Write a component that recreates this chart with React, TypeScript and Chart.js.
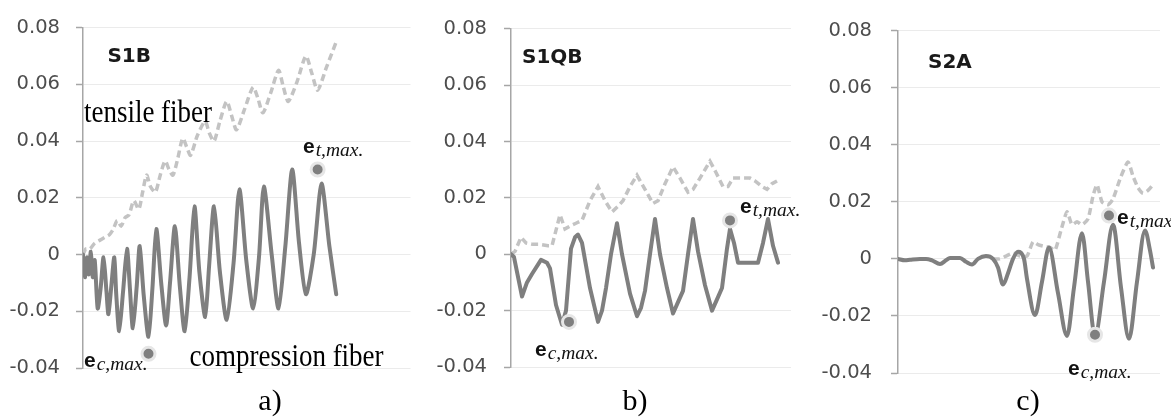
import React, { useEffect, useRef } from 'react';
import { Chart, registerables } from 'chart.js';

Chart.register(...registerables);

// ---------- shared axis ----------
const yTickValues = [-0.04, -0.02, 0, 0.02, 0.04, 0.06, 0.08];
const yTickLabels = ['-0.04', '-0.02', '0', '0.02', '0.04', '0.06', '0.08'];
const captions = ['a)', 'b)', 'c)'];
const titles = ['S1B', 'S1QB', 'S2A'];

// ---------- panel a: S1B ----------
const s1bCompX = [0, 2, 4, 6, 8, 10, 12, 15, 18, 21, 24, 26, 29, 32, 34, 37, 41, 45, 48, 51, 55, 58, 62, 67, 71, 75, 80, 85, 89, 94, 99, 104, 109, 114, 119, 125, 129, 134, 140, 147, 154, 160, 167, 174, 180, 185, 193, 200, 207, 214, 221, 228, 236, 244, 252, 259];
const s1bCompY = [0.0, -0.008, -0.001, -0.007, 0.001, -0.008, -0.002, -0.019, -0.012, -0.001, -0.013, -0.021, -0.011, -0.001, -0.014, -0.027, -0.013, 0.002, -0.012, -0.026, -0.011, 0.003, -0.014, -0.029, -0.012, 0.009, -0.010, -0.025, -0.010, 0.010, -0.011, -0.027, -0.008, 0.017, -0.006, -0.022, -0.004, 0.017, -0.006, -0.023, -0.003, 0.023, -0.002, -0.019, -0.001, 0.024, 0.0, -0.019, 0.003, 0.030, 0.004, -0.014, 0.0, 0.025, 0.003, -0.014];
const s1bTensX = [0, 3, 7, 12, 17, 22, 27, 31, 35, 39, 43, 47, 52, 57, 61, 65, 69, 74, 79, 84, 88, 92, 97, 102, 106, 110, 117, 125, 129, 134, 140, 147, 152, 157, 165, 174, 179, 184, 192, 200, 205, 210, 219, 228, 234, 240, 249, 259];
const s1bTensY = [0.0, 0.002, 0.002, 0.004, 0.005, 0.006, 0.007, 0.009, 0.012, 0.010, 0.013, 0.014, 0.019, 0.016, 0.022, 0.028, 0.024, 0.022, 0.028, 0.033, 0.030, 0.028, 0.034, 0.041, 0.038, 0.035, 0.042, 0.047, 0.043, 0.040, 0.047, 0.054, 0.049, 0.044, 0.051, 0.059, 0.055, 0.050, 0.057, 0.065, 0.059, 0.054, 0.061, 0.070, 0.064, 0.058, 0.066, 0.075];
const s1bMarkX = [67, 240];
const s1bMarkY = [-0.035, 0.030];

// ---------- panel b: S1QB ----------
const s1qbCompX = [0, 3, 11, 16, 21, 30, 36, 39, 45, 51, 55, 60, 64, 67, 71, 79, 87, 91, 95, 100, 106, 111, 119, 126, 130, 134, 139, 144, 149, 156, 162, 167, 172, 177, 182, 187, 194, 201, 206, 211, 216, 219, 223, 227, 247, 252, 257, 262, 267];
const s1qbCompY = [0.0, -0.001, -0.015, -0.010, -0.007, -0.002, -0.003, -0.005, -0.018, -0.025, -0.020, 0.002, 0.006, 0.007, 0.004, -0.012, -0.024, -0.020, -0.012, 0.0, 0.011, 0.0, -0.014, -0.022, -0.019, -0.013, 0.0, 0.0125, 0.0, -0.012, -0.021, -0.017, -0.013, 0.0, 0.0125, 0.001, -0.011, -0.020, -0.016, -0.012, 0.002, 0.009, 0.004, -0.003, -0.003, 0.004, 0.0125, 0.003, -0.003];
const s1qbTensX = [0, 4, 10, 15, 22, 29, 37, 41, 49, 54, 59, 65, 71, 79, 87, 94, 101, 107, 112, 119, 126, 134, 142, 147, 154, 162, 169, 177, 182, 189, 199, 205, 212, 217, 222, 229, 239, 244, 251, 256, 261, 266];
const s1qbTensY = [0.0, 0.001, 0.006, 0.004, 0.0035, 0.0035, 0.003, 0.003, 0.014, 0.009, 0.010, 0.011, 0.012, 0.019, 0.024, 0.019, 0.015, 0.017, 0.019, 0.024, 0.028, 0.023, 0.018, 0.019, 0.025, 0.031, 0.027, 0.022, 0.023, 0.027, 0.033, 0.029, 0.024, 0.024, 0.027, 0.027, 0.027, 0.026, 0.024, 0.023, 0.025, 0.026];
const s1qbMarkX = [58, 219];
const s1qbMarkY = [-0.024, 0.012];

// ---------- panel c: S2A ----------
const s2aCompX = [0, 7, 12, 22, 28, 34, 42, 48, 52, 62, 68, 74, 80, 88, 95, 100, 105, 110, 115, 120, 126, 129, 137, 144, 151, 160, 169, 176, 184, 190, 197, 206, 215, 223, 231, 239, 247, 252, 255];
const s2aCompY = [0.0, -0.0005, -0.0003, 0.0, 0.0, -0.0005, -0.0018, -0.0005, 0.0003, 0.0003, -0.001, -0.002, 0.0, 0.001, 0.0, -0.003, -0.009, -0.005, 0.0, 0.0025, 0.0, -0.007, -0.0197, -0.008, 0.004, -0.012, -0.027, -0.010, 0.009, -0.008, -0.027, -0.008, 0.012, -0.010, -0.028, -0.008, 0.010, 0.003, -0.003];
const s2aTensX = [95, 102, 108, 115, 122, 129, 135, 140, 145, 152, 157, 163, 169, 174, 179, 184, 190, 195, 199, 204, 210, 215, 222, 230, 235, 240, 245, 250, 255];
const s2aTensY = [0.0, 0.0, 0.001, 0.002, 0.001, 0.001, 0.006, 0.005, 0.0045, 0.004, 0.003, 0.010, 0.0165, 0.012, 0.013, 0.012, 0.014, 0.022, 0.026, 0.020, 0.019, 0.021, 0.028, 0.034, 0.029, 0.025, 0.023, 0.024, 0.026];
const s2aMarkX = [197, 211];
const s2aMarkY = [-0.0266, 0.0152];

// ---------- styling / layout ----------
const COMP_COLOR = '#7f7f7f';
const TENS_COLOR = '#c3c3c3';
const SERIF = '"Liberation Serif", "Times New Roman", serif';

type Ann = { kind: 'title' | 'serif' | 'e'; text: string; sub?: string; x: number; y: number };

type PanelCfg = {
  left: number;
  width: number;
  axisW: number;
  tickPad: number;
  padTop: number;
  padBottom: number;
  padRight: number;
  xMax: number;
  compX: number[];
  compY: number[];
  tensX: number[];
  tensY: number[];
  markX: number[];
  markY: number[];
  tension: number;
  monotone: boolean;
  anns: Ann[];
  caption: string;
  captionX: number;
};

const panels: PanelCfg[] = [
  {
    left: 0, width: 420, axisW: 83, tickPad: 16, padTop: 20, padBottom: 49, padRight: 2, xMax: 335,
    compX: s1bCompX, compY: s1bCompY, tensX: s1bTensX, tensY: s1bTensY, markX: s1bMarkX, markY: s1bMarkY,
    tension: 0.25, monotone: false,
    anns: [
      { kind: 'title', text: titles[0], x: 25, y: 0.0679 },
      { kind: 'serif', text: 'tensile fiber', x: 1, y: 0.0468 },
      { kind: 'serif', text: 'compression fiber', x: 109, y: -0.0392 },
      { kind: 'e', text: 'e', sub: 'c,max.', x: 1, y: -0.0395 },
      { kind: 'e', text: 'e', sub: 't,max.', x: 225, y: 0.0357 },
    ],
    caption: captions[0], captionX: 270,
  },
  {
    left: 420, width: 390, axisW: 91, tickPad: 17, padTop: 22, padBottom: 50, padRight: 19, xMax: 280,
    compX: s1qbCompX, compY: s1qbCompY, tensX: s1qbTensX, tensY: s1qbTensY, markX: s1qbMarkX, markY: s1qbMarkY,
    tension: 0, monotone: false,
    anns: [
      { kind: 'title', text: titles[1], x: 11, y: 0.0679 },
      { kind: 'e', text: 'e', sub: 'c,max.', x: 24, y: -0.0362 },
      { kind: 'e', text: 'e', sub: 't,max.', x: 229, y: 0.0146 },
    ],
    caption: captions[1], captionX: 215,
  },
  {
    left: 792, width: 379, axisW: 106, tickPad: 19, padTop: 16, padBottom: 44, padRight: 11, xMax: 262,
    compX: s2aCompX, compY: s2aCompY, tensX: s2aTensX, tensY: s2aTensY, markX: s2aMarkX, markY: s2aMarkY,
    tension: 0.4, monotone: true,
    anns: [
      { kind: 'title', text: titles[2], x: 30, y: 0.0669 },
      { kind: 'e', text: 'e', sub: 'c,max.', x: 170, y: -0.0407 },
      { kind: 'e', text: 'e', sub: 't,max.', x: 219, y: 0.0121 },
    ],
    caption: captions[2], captionX: 236,
  },
];

const pts = (xs: number[], ys: number[]) => xs.map((x, i) => ({ x, y: ys[i] }));

function tickLabel(v: number): string {
  const i = yTickValues.findIndex((t) => Math.abs(t - v) < 1e-9);
  return i >= 0 ? yTickLabels[i] : '';
}

function makeTextPlugin(cfg: PanelCfg) {
  return {
    id: 'panelText',
    afterDraw(chart: any) {
      const ctx: CanvasRenderingContext2D = chart.ctx;
      const xs = chart.scales.x;
      const ys = chart.scales.y;
      ctx.save();
      ctx.textBaseline = 'alphabetic';
      ctx.textAlign = 'left';
      for (const a of cfg.anns) {
        const px = xs.getPixelForValue(a.x);
        const py = ys.getPixelForValue(a.y);
        if (a.kind === 'title') {
          ctx.font = 'bold 20px "DejaVu Sans", sans-serif';
          ctx.fillStyle = '#1a1a1a';
          ctx.fillText(a.text, px, py);
        } else if (a.kind === 'serif') {
          ctx.font = '31px ' + SERIF;
          ctx.fillStyle = '#000000';
          ctx.save();
          ctx.translate(px, py);
          ctx.scale(0.87, 1);
          ctx.fillText(a.text, 0, 0);
          ctx.restore();
        } else {
          ctx.font = 'bold 21px "Liberation Sans", Arial, sans-serif';
          ctx.fillStyle = '#111111';
          ctx.fillText(a.text, px, py);
          const w = ctx.measureText(a.text).width;
          ctx.font = 'italic 19.5px ' + SERIF;
          ctx.fillText(a.sub || '', px + w + 1, py + 3);
        }
      }
      ctx.font = '30px ' + SERIF;
      ctx.fillStyle = '#000000';
      ctx.textAlign = 'center';
      ctx.fillText(cfg.caption, cfg.captionX, 410);
      ctx.restore();
    },
  };
}

function Panel({ cfg }: { cfg: PanelCfg }) {
  const ref = useRef<HTMLCanvasElement>(null);
  useEffect(() => {
    if (!ref.current) return;
    const chart = new Chart(ref.current, {
      type: 'line',
      data: {
        datasets: [
          {
            label: 'max strain',
            data: pts(cfg.markX, cfg.markY),
            showLine: false,
            pointRadius: 6.5,
            pointBackgroundColor: COMP_COLOR,
            pointBorderColor: '#e6e6e6',
            pointBorderWidth: 3,
            order: 0,
          },
          {
            label: 'compression fiber',
            data: pts(cfg.compX, cfg.compY),
            borderColor: COMP_COLOR,
            borderWidth: 4,
            pointRadius: 0,
            tension: cfg.tension,
            cubicInterpolationMode: cfg.monotone ? 'monotone' : 'default',
            borderJoinStyle: 'round',
            borderCapStyle: 'round',
            fill: false,
            order: 1,
          },
          {
            label: 'tensile fiber',
            data: pts(cfg.tensX, cfg.tensY),
            borderColor: TENS_COLOR,
            borderWidth: 3.5,
            borderDash: [7, 4],
            pointRadius: 0,
            tension: cfg.monotone ? 0.2 : cfg.tension,
            fill: false,
            order: 2,
          },
        ],
      } as any,
      options: {
        responsive: false,
        animation: false,
        events: [],
        layout: { padding: { left: 0, right: cfg.padRight, top: cfg.padTop, bottom: cfg.padBottom } },
        plugins: { legend: { display: false }, tooltip: { enabled: false } },
        scales: {
          x: { type: 'linear', display: false, min: 0, max: cfg.xMax },
          y: {
            type: 'linear',
            min: -0.04,
            max: 0.08,
            afterFit: (s: any) => {
              s.width = cfg.axisW;
            },
            afterBuildTicks: (s: any) => {
              s.ticks = yTickValues.map((v) => ({ value: v }));
            },
            ticks: {
              stepSize: 0.02,
              padding: cfg.tickPad,
              color: '#4d4d4d',
              font: { family: '"DejaVu Sans", sans-serif', size: 19.5 },
              callback: (v: any) => tickLabel(Number(v)),
            },
            grid: { color: '#ebebeb', lineWidth: 1, tickLength: 7, tickColor: '#a6a6a6', tickWidth: 1.5 },
            border: { display: true, color: '#a6a6a6', width: 1.5 },
          },
        },
      } as any,
      plugins: [makeTextPlugin(cfg)],
    });
    return () => chart.destroy();
  }, [cfg]);
  return (
    <div style={{ position: 'absolute', left: cfg.left, top: 0, width: cfg.width, height: 417 }}>
      <canvas ref={ref} width={cfg.width} height={417} style={{ display: 'block', width: cfg.width, height: 417 }} />
    </div>
  );
}

export default function App() {
  return (
    <div style={{ position: 'absolute', left: 0, top: 0, width: 1171, height: 417, background: '#ffffff', overflow: 'hidden' }}>
      {panels.map((p, i) => (
        <Panel key={i} cfg={p} />
      ))}
    </div>
  );
}
